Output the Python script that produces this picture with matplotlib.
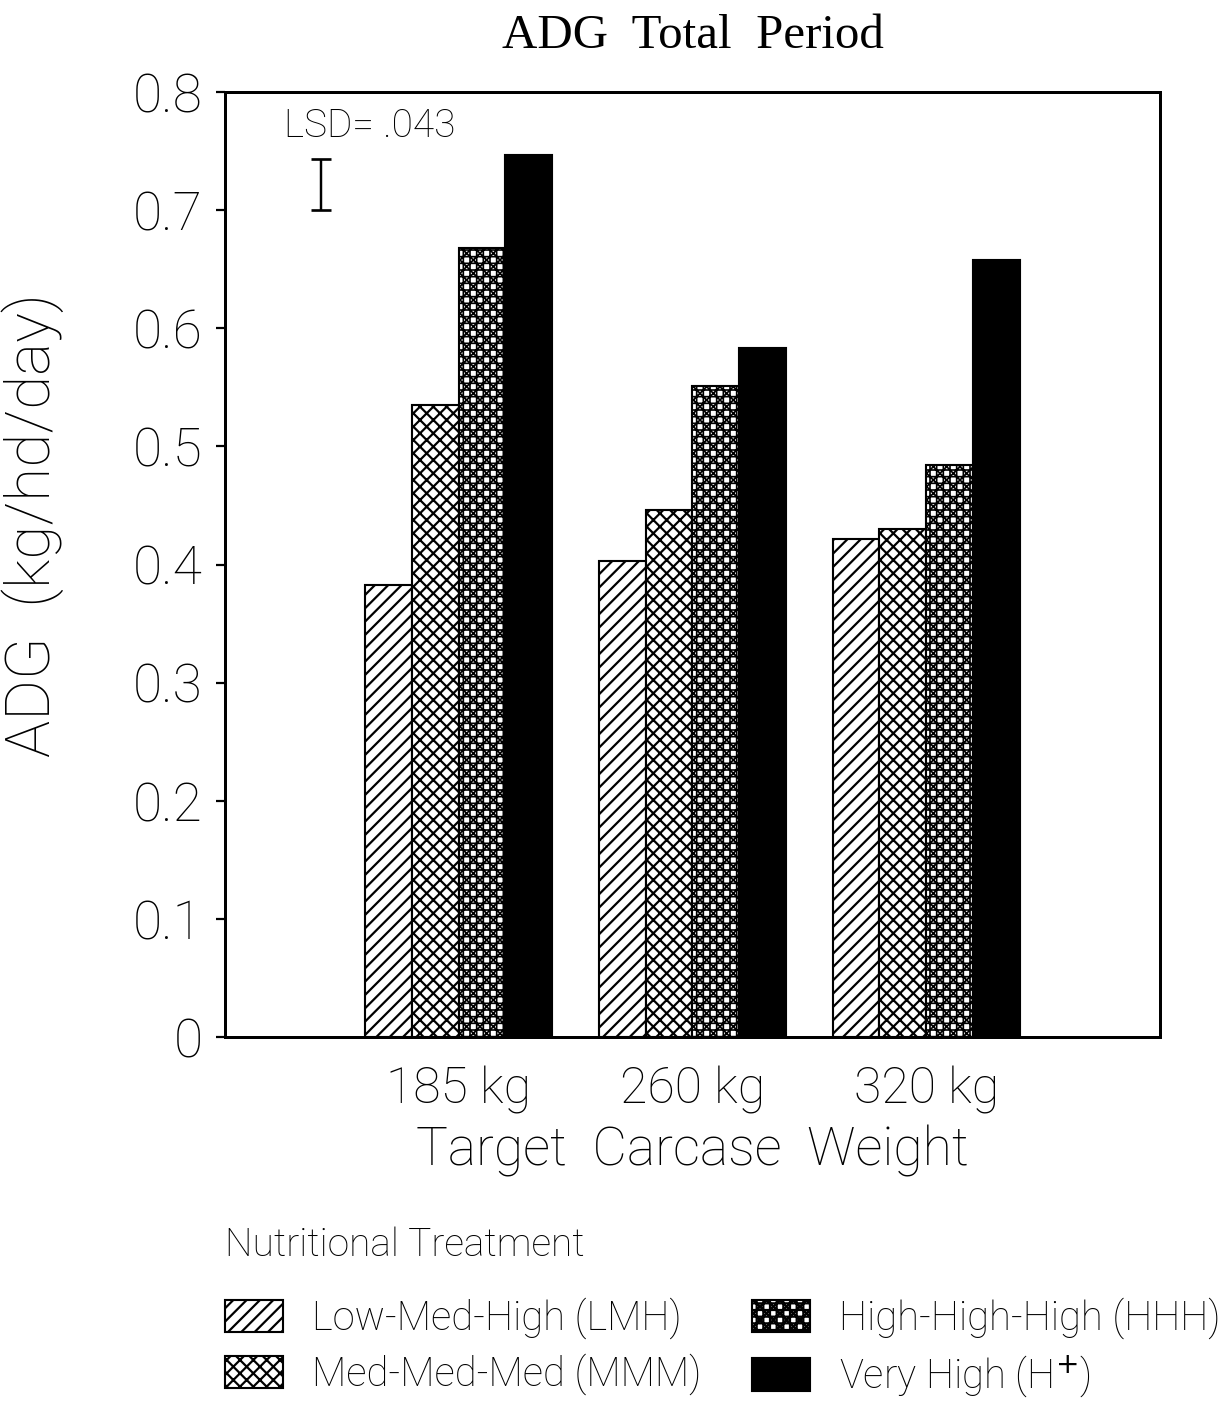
import matplotlib
matplotlib.use('Agg')
import matplotlib.pyplot as plt
from matplotlib.patches import Patch
import numpy as np

# average daily gain by target carcase weight and treatment
weights = ['185 kg', '260 kg', '320 kg']
treatments = ['Low-Med-High (LMH)', 'Med-Med-Med (MMM)',
              'High-High-High (HHH)', 'Very High (H$^{+}$)']
adg_lmh = [0.383, 0.403, 0.422]
adg_mmm = [0.535, 0.446, 0.430]
adg_hhh = [0.668, 0.551, 0.484]
adg_hplus = [0.747, 0.583, 0.658]
lsd = 0.043

series = [adg_lmh, adg_mmm, adg_hhh, adg_hplus]
hatches = ['//', 'xx', 'xx++', None]
hatch_lw = [2.0, 2.0, 1.5, 2.0]
fills = ['white', 'white', 'white', 'black']

DPI = 80
sans = ['Roboto', 'Liberation Sans', 'DejaVu Sans']
light = 'light'

fig = plt.figure(figsize=(1230 / DPI, 1402 / DPI), dpi=DPI)
ax = fig.add_axes([0.1829, 0.2603, 0.7602, 0.6741])

x = np.arange(1, len(weights) + 1)
width = 0.2
for i, vals in enumerate(series):
    plt.rcParams['hatch.linewidth'] = hatch_lw[i]
    ax.bar(x + (i - 1.5) * width, vals, width, color=fills[i],
           edgecolor='black', hatch=hatches[i], linewidth=1.9)

# LSD bar in upper left corner
ax.errorbar([0.41], [0.70 + lsd / 2], yerr=lsd / 2, color='black',
            capsize=9, elinewidth=2.2, capthick=2.4)
ax.text(0.62, 0.755, 'LSD= .043', ha='center', va='bottom',
        fontsize=35, family=sans, weight=light)

ax.set_xlim(0, 4)
ax.set_ylim(0, 0.8)
ax.set_yticks(np.arange(0, 0.81, 0.1))
ax.set_yticklabels(['0'] + ['%.1f' % v for v in np.arange(0.1, 0.81, 0.1)])
ax.set_xticks(x)
ax.set_xticklabels(weights)
ax.tick_params(axis='y', direction='out', length=8, width=2,
               labelsize=48, pad=12)
ax.tick_params(axis='x', length=0, labelsize=45, pad=26)
for lab in ax.get_xticklabels() + ax.get_yticklabels():
    lab.set_family(sans)
    lab.set_weight(light)
for s in ax.spines.values():
    s.set_linewidth(2.7)

ax.set_xlabel('Target  Carcase  Weight', fontsize=48, family=sans,
              weight=light, labelpad=10)
ax.set_ylabel('ADG  (kg/hd/day)', fontsize=56, family=sans, weight=light)
ax.yaxis.set_label_coords(-0.172, 0.542)
ax.set_title('ADG  Total  Period', fontsize=44, family='Liberation Serif',
             pad=40)

# legend: heading placed on its own, entries in two columns
fig.text(0.183, 0.112, 'Nutritional Treatment', ha='left', va='center',
         fontsize=35, family=sans, weight=light)
handles = []
for i in range(4):
    plt.rcParams['hatch.linewidth'] = hatch_lw[i]
    handles.append(Patch(facecolor=fills[i], edgecolor='black',
                         hatch=hatches[i], linewidth=1.9,
                         label=treatments[i]))
leg = fig.legend(handles=handles, loc='upper left',
                 bbox_to_anchor=(0.183, 0.0745), ncol=2, frameon=False,
                 borderpad=0, borderaxespad=0,
                 prop={'family': sans, 'size': 36, 'weight': light},
                 handlelength=1.45, handleheight=0.87, handletextpad=0.72,
                 columnspacing=1.27, labelspacing=0.35)

fig.savefig('out.png', dpi=DPI)
